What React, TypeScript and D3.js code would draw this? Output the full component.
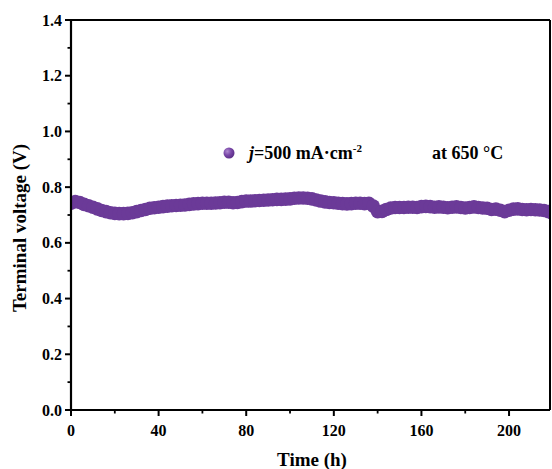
import React from "react";
import * as d3 from "d3";

const times: number[] = [
  0, 2, 4, 6, 8, 10, 12, 14, 16, 18, 20, 22, 24, 26, 28, 30, 32, 34, 36, 38,
  40, 42, 44, 46, 48, 50, 52, 54, 56, 58, 60, 62, 64, 66, 68, 70, 72, 74, 76, 78,
  80, 82, 84, 86, 88, 90, 92, 94, 96, 98, 100, 102, 104, 106, 108, 110, 112, 114, 116, 118,
  120, 122, 124, 126, 128, 130, 132, 134, 136, 138, 140, 142, 144, 146, 148, 150, 152, 154, 156, 158,
  160, 162, 164, 166, 168, 170, 172, 174, 176, 178, 180, 182, 184, 186, 188, 190, 192, 194, 196, 198,
  200, 202, 204, 206, 208, 210, 212, 214, 216, 218, 220,
];

const voltages: number[] = [
  0.742, 0.748, 0.745, 0.738, 0.733, 0.728, 0.722, 0.716, 0.712, 0.708, 0.706, 0.705, 0.705, 0.706, 0.708, 0.712, 0.716, 0.72, 0.724, 0.726,
  0.728, 0.73, 0.732, 0.733, 0.734, 0.735, 0.736, 0.738, 0.74, 0.741, 0.742, 0.742, 0.742, 0.743, 0.744, 0.746, 0.746, 0.744, 0.745, 0.748,
  0.75, 0.75, 0.751, 0.752, 0.753, 0.754, 0.755, 0.756, 0.756, 0.757, 0.758, 0.76, 0.761, 0.761, 0.76, 0.758, 0.754, 0.75, 0.747, 0.745,
  0.744, 0.742, 0.741, 0.74, 0.741, 0.742, 0.742, 0.741, 0.742, 0.732, 0.712, 0.713, 0.72, 0.725, 0.727, 0.727, 0.727, 0.728, 0.728, 0.727,
  0.73, 0.731, 0.73, 0.728, 0.729, 0.728, 0.726, 0.728, 0.729, 0.727, 0.725, 0.727, 0.729, 0.727, 0.725, 0.724, 0.72, 0.721, 0.717, 0.712,
  0.717, 0.721, 0.722, 0.72, 0.719, 0.72, 0.719, 0.718, 0.716, 0.712, 0.705,
];

const xTicks: number[] = [0, 40, 80, 120, 160, 200];
const xMinorTicks: number[] = [20, 60, 100, 140, 180];
const yTicks: number[] = [0, 0.2, 0.4, 0.6, 0.8, 1.0, 1.2, 1.4];
const yMinorTicks: number[] = [0.1, 0.3, 0.5, 0.7, 0.9, 1.1, 1.3];

const xLabel = "Time (h)";
const yLabel = "Terminal voltage (V)";

const FONT = "Liberation Serif, Times New Roman, serif";
const PURPLE = "#6B3A98";

export default function App() {
  const left = 71;
  const right = 550;
  const top = 20;
  const bottom = 410;

  const x = d3.scaleLinear().domain([0, 218.7]).range([left, right]);
  const y = d3.scaleLinear().domain([0, 1.4]).range([bottom, top]);

  return (
    <svg
      width={552}
      height={469}
      style={{ position: "absolute", left: 0, top: 0, display: "block", background: "#fff" }}
    >
      <defs>
        <clipPath id="plotclip">
          <rect x={left + 1} y={top} width={right - left - 1} height={bottom - top} />
        </clipPath>
        <radialGradient id="ball" cx="0.35" cy="0.35" r="0.7">
          <stop offset="0" stopColor="#B08AD0" />
          <stop offset="0.5" stopColor="#7A48A8" />
          <stop offset="1" stopColor="#5A2C86" />
        </radialGradient>
      </defs>

      {/* data */}
      <g clipPath="url(#plotclip)">
        {times.map((t, i) => (
          <circle key={i} cx={x(t)} cy={y(voltages[i])} r={6.8} fill={PURPLE} />
        ))}
      </g>

      {/* frame */}
      <line x1={left} x2={right} y1={top} y2={top} stroke="#000" strokeWidth={2} />
      <line x1={right} x2={right} y1={top} y2={bottom} stroke="#000" strokeWidth={2} />
      <line x1={left} x2={left} y1={top - 1} y2={bottom + 1} stroke="#000" strokeWidth={2.2} />
      <line x1={left - 1} x2={right} y1={bottom} y2={bottom} stroke="#000" strokeWidth={2.2} />

      {/* y ticks */}
      {yTicks.map((v) => (
        <g key={"y" + v}>
          <line x1={left - 6} x2={left} y1={y(v)} y2={y(v)} stroke="#000" strokeWidth={2} />
          <text
            x={left - 9}
            y={y(v)}
            dy="0.35em"
            textAnchor="end"
            fontFamily={FONT}
            fontWeight="bold"
            fontSize={16}
          >
            {v.toFixed(1)}
          </text>
        </g>
      ))}
      {yMinorTicks.map((v) => (
        <line key={"ym" + v} x1={left - 3.5} x2={left} y1={y(v)} y2={y(v)} stroke="#000" strokeWidth={1.8} />
      ))}

      {/* x ticks */}
      {xTicks.map((v) => (
        <g key={"x" + v}>
          <line x1={x(v)} x2={x(v)} y1={bottom} y2={bottom + 6} stroke="#000" strokeWidth={2} />
          <text
            x={x(v)}
            y={436}
            textAnchor="middle"
            fontFamily={FONT}
            fontWeight="bold"
            fontSize={16}
          >
            {v}
          </text>
        </g>
      ))}
      {xMinorTicks.map((v) => (
        <line key={"xm" + v} x1={x(v)} x2={x(v)} y1={bottom} y2={bottom + 3.5} stroke="#000" strokeWidth={1.8} />
      ))}

      {/* axis titles */}
      <text
        x={312}
        y={466}
        textAnchor="middle"
        fontFamily={FONT}
        fontWeight="bold"
        fontSize={19}
      >
        {xLabel}
      </text>
      <text
        transform={`translate(26, 228) rotate(-90)`}
        textAnchor="middle"
        fontFamily={FONT}
        fontWeight="bold"
        fontSize={19}
      >
        {yLabel}
      </text>

      {/* legend */}
      <circle cx={229} cy={153} r={5.5} fill="url(#ball)" />
      <text x={249} y={159} fontFamily={FONT} fontWeight="bold" fontSize={18}>
        <tspan fontStyle="italic">j</tspan>
        <tspan>=500 mA·cm</tspan>
        <tspan dy={-7} fontSize={11}>-2</tspan>
      </text>
      <text x={432} y={159} fontFamily={FONT} fontWeight="bold" fontSize={18}>
        at 650 °C
      </text>
    </svg>
  );
}
